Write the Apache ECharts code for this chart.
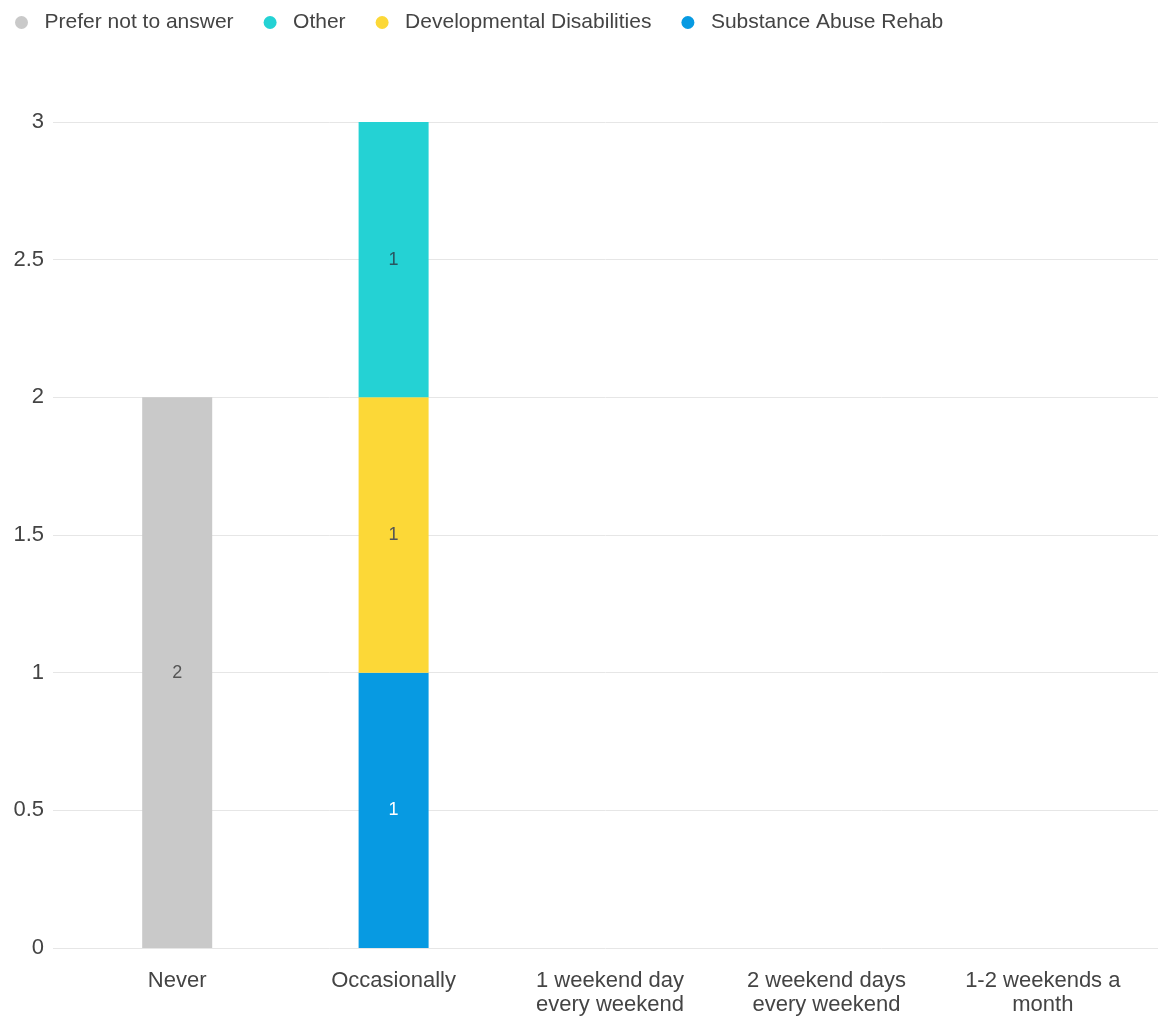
<!DOCTYPE html>
<html>
<head>
<meta charset="utf-8">
<script src="https://cdn.jsdelivr.net/npm/echarts@6/dist/echarts.min.js"></script>
<style>html,body{margin:0;padding:0;background:#fff}#c{width:1158px;height:1019px}</style>
</head>
<body>
<div id="c"></div>
<script>
const categories = ['Never', 'Occasionally', '1 weekend day\nevery weekend', '2 weekend days\nevery weekend', '1-2 weekends a\nmonth'];
const preferNotToAnswer = [2, 0, 0, 0, 0];
const other = [0, 1, 0, 0, 0];
const developmentalDisabilities = [0, 1, 0, 0, 0];
const substanceAbuseRehab = [0, 1, 0, 0, 0];
const yTicks = [0, 0.5, 1, 1.5, 2, 2.5, 3];

const FONT = '"Liberation Sans", Arial, sans-serif';
const chart = echarts.init(document.getElementById('c'));

function labelCfg(color) {
  return {
    show: true, position: 'inside', color: color, fontSize: 18, fontFamily: FONT,
    formatter: p => (p.value ? String(p.value) : '')
  };
}

const series = [
  { name: 'Substance Abuse Rehab', data: substanceAbuseRehab, color: '#079ae2', lbl: '#ffffff' },
  { name: 'Developmental Disabilities', data: developmentalDisabilities, color: '#fcd837', lbl: '#555555' },
  { name: 'Other', data: other, color: '#24d2d4', lbl: '#2a5560' },
  { name: 'Prefer not to answer', data: preferNotToAnswer, color: '#c9c9c9', lbl: '#555555' }
].map(s => ({
  name: s.name, type: 'bar', stack: 'total', xAxisIndex: 1, yAxisIndex: 1,
  data: s.data, barWidth: 70, itemStyle: { color: s.color }, label: labelCfg(s.lbl),
  emphasis: { disabled: true }
}));

chart.setOption({
  animation: false,
  legend: {
    data: ['Prefer not to answer', 'Other', 'Developmental Disabilities', 'Substance Abuse Rehab'],
    left: 10, top: 7, icon: 'circle', itemWidth: 36, itemHeight: 13, itemGap: 30,
    textStyle: { fontSize: 21, color: '#444', fontFamily: FONT }
  },
  grid: [
    { left: 53, right: 0, top: 122, bottom: 71 },
    { left: 69, right: 7, top: 122, bottom: 71 }
  ],
  xAxis: [
    { type: 'category', gridIndex: 0, data: categories, show: false },
    {
      type: 'category', gridIndex: 1, data: categories,
      axisLine: { show: false }, axisTick: { show: false },
      axisLabel: { margin: 21, fontSize: 22, lineHeight: 24, color: '#444', fontFamily: FONT, interval: 0 }
    }
  ],
  yAxis: [
    {
      type: 'value', gridIndex: 0, min: 0, max: 3, interval: 0.5,
      axisLine: { show: false }, axisTick: { show: false },
      axisLabel: { margin: 9, fontSize: 22, color: '#444', fontFamily: FONT },
      splitLine: { lineStyle: { color: '#e6e6e6', width: 1 } }
    },
    {
      type: 'value', gridIndex: 1, min: yTicks[0], max: yTicks[yTicks.length - 1], interval: 0.5,
      show: false, splitLine: { show: false }
    }
  ],
  series: series
});
</script>
</body>
</html>
